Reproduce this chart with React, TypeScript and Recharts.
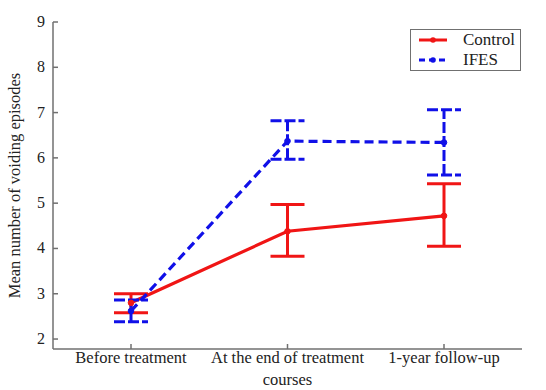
import React from 'react';
import { LineChart, Line, XAxis, YAxis, ErrorBar } from 'recharts';

const categories = ['Before treatment', 'At the end of treatment\ncourses', '1-year follow-up'];
const controlMean = [2.8, 4.38, 4.72];
const controlLow = [2.58, 3.83, 4.05];
const controlHigh = [3.0, 4.97, 5.43];
const ifesMean = [2.62, 6.37, 6.34];
const ifesLow = [2.38, 5.97, 5.62];
const ifesHigh = [2.86, 6.82, 7.06];
const yTicks = [2, 3, 4, 5, 6, 7, 8, 9];

const RED = '#f01515';
const BLUE = '#1010e8';
const AXIS = '#707070';
const FONT = 'Liberation Serif, DejaVu Serif, serif';

const data = categories.map((name, i) => ({
  name,
  control: controlMean[i],
  controlErr: [controlMean[i] - controlLow[i], controlHigh[i] - controlMean[i]],
  ifes: ifesMean[i],
  ifesErr: [ifesMean[i] - ifesLow[i], ifesHigh[i] - ifesMean[i]],
}));

const CategoryTick = (props: any) => {
  const { x, payload } = props;
  const lines = String(payload.value).split('\n');
  return (
    <text x={x} textAnchor="middle" fill="#222" style={{ fontSize: 16.5, fontFamily: FONT }}>
      {lines.map((t, i) => (
        <tspan key={i} x={x} y={363 + i * 22}>{t}</tspan>
      ))}
    </text>
  );
};

const NumTick = (props: any) => {
  const { y, payload } = props;
  return (
    <text x={45} y={y} dy={5} textAnchor="end" fill="#222" style={{ fontSize: 16, fontFamily: FONT }}>
      {payload.value}
    </text>
  );
};

const Blank = () => <g />;

const YTitle = (props: any) => {
  const vb = props.viewBox || { y: 22, height: 327 };
  const cy = vb.y + vb.height / 2;
  return (
    <text x={20} y={cy} transform={`rotate(-90, 20, ${cy})`} textAnchor="middle"
      fill="#222" style={{ fontSize: 16.5, fontFamily: FONT }}>
      Mean number of voiding episodes
    </text>
  );
};

const LegendBox = () => (
  <div style={{
    position: 'absolute', left: 410, top: 29, width: 111, height: 42,
    border: `1.5px solid ${AXIS}`, background: '#fff', boxSizing: 'border-box',
    fontFamily: FONT, fontSize: 17, color: '#222',
  }}>
    <svg width={50} height={40} style={{ position: 'absolute', left: 0, top: 0 }}>
      <line x1={8} y1={10} x2={36} y2={10} stroke={RED} strokeWidth={3} />
      <circle cx={22} cy={10} r={2.8} fill={RED} />
      <line x1={8} y1={30} x2={36} y2={30} stroke={BLUE} strokeWidth={3} strokeDasharray="6 4" />
      <circle cx={22} cy={30} r={2.8} fill={BLUE} />
    </svg>
    <div style={{ position: 'absolute', left: 52, top: 0, lineHeight: '19px' }}>Control</div>
    <div style={{ position: 'absolute', left: 52, top: 20, lineHeight: '19px' }}>IFES</div>
  </div>
);

export default function App() {
  return (
    <div style={{ position: 'absolute', left: 0, top: 0, width: 546, height: 390, background: '#fff', overflow: 'hidden' }}>
      <LineChart width={546} height={390} data={data} margin={{ top: 22, right: 24, left: 0, bottom: 0 }}>
        <XAxis
          dataKey="name"
          padding={{ left: 78, right: 78 }}
          stroke={AXIS}
          strokeWidth={1.5}
          tickSize={-5}
          tick={<CategoryTick />}
          interval={0}
          height={41}
        />
        <XAxis
          xAxisId="top"
          dataKey="name"
          orientation="top"
          padding={{ left: 78, right: 78 }}
          stroke={AXIS}
          strokeWidth={1.5}
          tickSize={-5}
          tick={<Blank />}
          interval={0}
          height={0}
        />
        <YAxis
          domain={[1.78, 9]}
          ticks={yTicks}
          type="number"
          allowDataOverflow
          stroke={AXIS}
          strokeWidth={1.5}
          tickSize={-5}
          width={53}
          tick={<NumTick />}
          label={<YTitle />}
        />
        <YAxis
          yAxisId="right"
          orientation="right"
          domain={[1.78, 9]}
          ticks={yTicks}
          type="number"
          allowDataOverflow
          stroke={AXIS}
          strokeWidth={1.5}
          tickSize={-5}
          tick={<Blank />}
          width={0}
        />
        <Line
          dataKey="control"
          stroke={RED}
          strokeWidth={3.2}
          dot={{ r: 2.8, fill: RED, stroke: RED, strokeWidth: 1 }}
          isAnimationActive={false}
        >
          <ErrorBar dataKey="controlErr" width={17} stroke={RED} strokeWidth={3} direction="y" />
        </Line>
        <Line
          dataKey="ifes"
          stroke={BLUE}
          strokeWidth={3.2}
          strokeDasharray="9 5"
          dot={{ r: 2.8, fill: BLUE, stroke: BLUE, strokeWidth: 1, strokeDasharray: '' }}
          isAnimationActive={false}
        >
          <ErrorBar dataKey="ifesErr" width={17} stroke={BLUE} strokeWidth={3} strokeDasharray="11 3" direction="y" />
        </Line>
      </LineChart>
      <LegendBox />
    </div>
  );
}
